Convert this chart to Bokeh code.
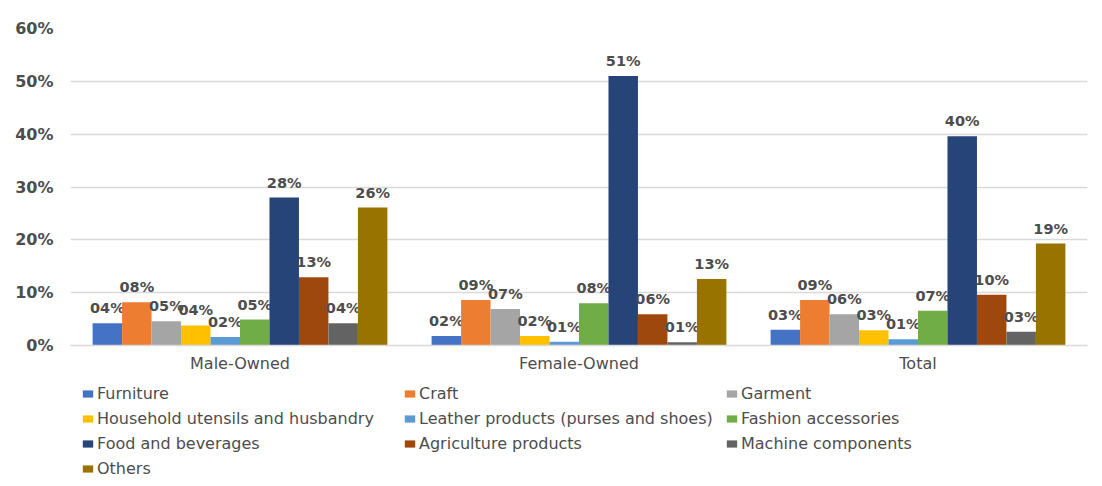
import math
from bokeh.plotting import figure
from bokeh.layouts import column
from bokeh.models import (ColumnDataSource, FactorRange, Range1d, Legend, LegendItem,
                          FixedTicker, PrintfTickFormatter)
from bokeh.transform import dodge
from bokeh.core.properties import value
from bokeh.embed import file_html
from bokeh.resources import INLINE

groups = ["Male-Owned", "Female-Owned", "Total"]
series = ["Furniture", "Craft", "Garment", "Household utensils and husbandry",
          "Leather products (purses and shoes)", "Fashion accessories",
          "Food and beverages", "Agriculture products", "Machine components", "Others"]
colors = ["#4472C4", "#ED7D31", "#A5A5A5", "#FFC000", "#5B9BD5", "#70AD47",
          "#264478", "#9E480E", "#636363", "#997300"]

furniture = [4.2, 1.8, 3.0]
craft = [8.2, 8.6, 8.6]
garment = [4.6, 6.9, 5.9]
household = [3.8, 1.8, 2.9]
leather = [1.6, 0.7, 1.2]
fashion = [4.9, 8.0, 6.6]
food = [28.0, 51.0, 39.6]
agriculture = [12.9, 5.9, 9.6]
machine = [4.2, 0.6, 2.6]
others = [26.1, 12.6, 19.3]
y_ticks = [0, 10, 20, 30, 40, 50, 60]

values = [furniture, craft, garment, household, leather, fashion,
          food, agriculture, machine, others]

TEXT = "#4d4d4d"
FONT = "DejaVu Sans"

p = figure(width=1094, height=375, x_range=FactorRange(*groups), y_range=Range1d(0, 60),
           output_backend="svg", toolbar_location=None,
           min_border_left=70, min_border_right=7, min_border_top=28, min_border_bottom=30)
p.outline_line_color = None
p.background_fill_color = "white"
p.border_fill_color = "white"

# legend-only figure below the chart (its bars lie below its visible y range)
lf = figure(width=1094, height=103, x_range=FactorRange(*groups), y_range=Range1d(100, 200),
            x_axis_type=None, y_axis_type=None, output_backend="svg",
            toolbar_location=None, min_border_left=70, min_border_right=7,
            min_border_top=0, min_border_bottom=0)
lf.outline_line_color = None
lf.grid.visible = False

n = len(series)
bw = 1 / 11.5
items = []
for i, (name, col, vals) in enumerate(zip(series, colors, values)):
    off = (i - (n - 1) / 2) * bw
    src = ColumnDataSource(dict(cat=groups, val=vals,
                                lbl=["%02d%%" % int(math.floor(v + 0.5)) for v in vals]))
    p.vbar(x=dodge("cat", off, range=p.x_range), top="val", width=bw,
           source=src, fill_color=col, line_color=None)
    p.text(x=dodge("cat", off, range=p.x_range), y="val", text="lbl", source=src,
           text_align="center", text_baseline="bottom", y_offset=-7,
           text_font=value(FONT), text_font_style="bold", text_font_size="14.5px",
           text_color=TEXT)
    r = lf.vbar(x=dodge("cat", off, range=lf.x_range), top="val", width=bw,
                source=src, fill_color=col, line_color=None)
    items.append(LegendItem(label=name, renderers=[r]))

p.xgrid.visible = False
p.ygrid.grid_line_color = "#d9d9d9"
p.ygrid.grid_line_width = 1.5
p.yaxis.ticker = FixedTicker(ticks=y_ticks)
p.yaxis.formatter = PrintfTickFormatter(format="%d%%")
p.yaxis.axis_line_color = None
p.yaxis.major_tick_line_color = None
p.yaxis.minor_tick_line_color = None
p.yaxis.major_label_standoff = 11
p.yaxis.major_label_text_font = FONT
p.yaxis.major_label_text_font_style = "bold"
p.yaxis.major_label_text_font_size = "16px"
p.yaxis.major_label_text_color = TEXT

p.xaxis.axis_line_color = "#d9d9d9"
p.xaxis.axis_line_width = 1.5
p.xaxis.major_tick_line_color = None
p.xaxis.minor_tick_line_color = None
p.xaxis.major_label_standoff = 2
p.xaxis.major_label_text_font = FONT
p.xaxis.major_label_text_font_size = "16px"
p.xaxis.major_label_text_color = TEXT

legend = Legend(items=items, orientation="horizontal", ncols=3, location=(11, 0),
                padding=0, margin=0, spacing=6, glyph_width=13, glyph_height=9,
                label_standoff=3, label_width=300, label_height=19,
                label_text_font=FONT, label_text_font_size="16px",
                label_text_color=TEXT, border_line_color=None,
                background_fill_alpha=0)
lf.add_layout(legend, "center")

layout = column(p, lf, spacing=0)
open("out.html", "w").write(file_html(layout, INLINE))
